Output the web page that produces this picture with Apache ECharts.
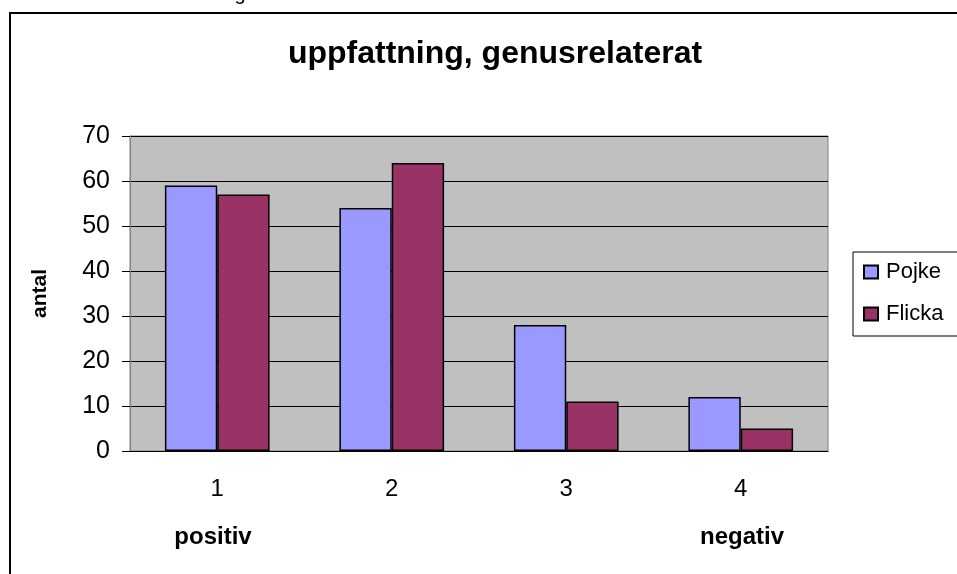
<!DOCTYPE html>
<html>
<head>
<meta charset="utf-8">
<script src="https://cdn.jsdelivr.net/npm/echarts@6/dist/echarts.min.js"></script>
<style>
html, body { margin: 0; padding: 0; background: #fff; }
#chart { width: 957px; height: 574px; }
</style>
</head>
<body>
<div id="chart"></div>
<script>
const categories = ["1", "2", "3", "4"]
const pojke = [59, 54, 28, 12]
const flicka = [57, 64, 11, 5]
const yTicks = { min: 0, max: 70, interval: 10 }

const font = "Liberation Sans, Arial, sans-serif"
const chart = echarts.init(document.getElementById("chart"), null, { renderer: "canvas" })

const option = {
    backgroundColor: "#fff",
    animation: false,
    title: {
        text: "uppfattning, genusrelaterat",
        left: 490,
        top: 33,
        textAlign: "center",
        textStyle: { fontFamily: font, fontSize: 32, fontWeight: "bold", color: "#000" }
    },
    legend: {
        data: ["Pojke", "Flicka"],
        orient: "vertical",
        left: 853,
        top: 252,
        padding: [9, 30, 11, 10],
        itemGap: 20,
        itemWidth: 14,
        itemHeight: 13,
        borderColor: "#000",
        borderWidth: 1,
        icon: "rect",
        textStyle: { fontFamily: font, fontSize: 22, color: "#000", padding: [0, 0, 0, 3] }
    },
    grid: {
        left: 130,
        right: 129,
        top: 136,
        bottom: 123,
        show: true,
        backgroundColor: "#C0C0C0",
        borderColor: "#808080",
        borderWidth: 1
    },
    xAxis: {
        type: "category",
        data: categories,
        axisLine: { lineStyle: { color: "#000", width: 1 } },
        axisTick: { length: 8, lineStyle: { color: "#000" } },
        axisLabel: { margin: 26, fontFamily: font, fontSize: 24, color: "#000" }
    },
    yAxis: {
        type: "value",
        min: yTicks.min,
        max: yTicks.max,
        interval: yTicks.interval,
        name: "antal",
        nameLocation: "middle",
        nameGap: 79,
        nameTextStyle: { fontFamily: font, fontSize: 21, fontWeight: "bold", color: "#000" },
        axisLine: { show: true, lineStyle: { color: "#808080" } },
        axisTick: { show: true, length: 8, lineStyle: { color: "#000" } },
        axisLabel: { margin: 20, fontFamily: font, fontSize: 25, color: "#000" },
        splitLine: { lineStyle: { color: "#000", width: 1 } }
    },
    series: [
        {
            name: "Pojke",
            type: "bar",
            data: pojke,
            barGap: "0%",
            barCategoryGap: "40%",
            itemStyle: { color: "#9999FF", borderColor: "#000", borderWidth: 1.5 }
        },
        {
            name: "Flicka",
            type: "bar",
            data: flicka,
            itemStyle: { color: "#993366", borderColor: "#000", borderWidth: 1.5 }
        }
    ],
    graphic: [
        {
            type: "rect",
            shape: { x: 10, y: 13, width: 1000, height: 620 },
            style: { fill: "none", stroke: "#000", lineWidth: 2 },
            silent: true
        },
        {
            type: "text",
            x: 213,
            y: 537,
            style: { text: "positiv", font: "bold 24px " + font, fill: "#000", align: "center", verticalAlign: "middle" }
        },
        {
            type: "text",
            x: 742,
            y: 537,
            style: { text: "negativ", font: "bold 24px " + font, fill: "#000", align: "center", verticalAlign: "middle" }
        },
        {
            type: "text",
            x: 240,
            y: -16,
            style: { text: "g", font: "20px " + font, fill: "#000", align: "center" }
        }
    ]
}

chart.setOption(option)
</script>
</body>
</html>
